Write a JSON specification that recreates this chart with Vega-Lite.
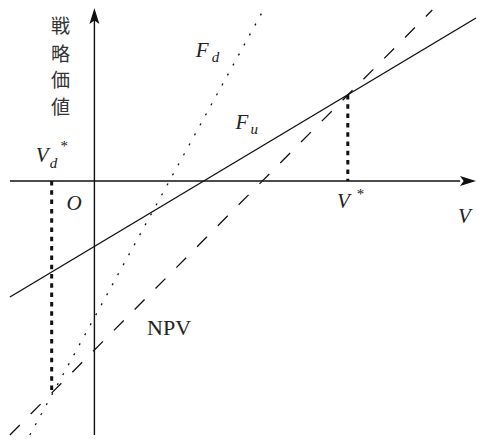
{
  "$schema": "https://vega.github.io/schema/vega-lite/v6.json",
  "width": 479,
  "height": 444,
  "padding": 0,
  "autosize": {"type": "fit", "contains": "padding"},
  "background": "white",
  "config": {"view": {"stroke": null}},
  "datasets": {
    "lines": [
      {"series": "Fu", "x": -85, "y": -116},
      {"series": "Fu", "x": 384, "y": 163},
      {"series": "Fd", "x": -65, "y": -254},
      {"series": "Fd", "x": 170, "y": 171},
      {"series": "NPV", "x": -85, "y": -254},
      {"series": "NPV", "x": 340, "y": 171}
    ],
    "drops": [
      {"name": "V*", "x": 255, "y": 86, "y2": 0},
      {"name": "Vd*", "x": -43, "y": 0, "y2": -213}
    ],
    "mathMain": [
      {"label": "F", "x": 102, "y": 124},
      {"label": "F", "x": 142, "y": 52},
      {"label": "V", "x": -59, "y": 19},
      {"label": "O", "x": -28, "y": -29},
      {"label": "V", "x": 244, "y": -27},
      {"label": "V", "x": 366, "y": -42}
    ],
    "mathSub": [
      {"label": "d", "x": 118, "y": 119},
      {"label": "u", "x": 157, "y": 47},
      {"label": "d", "x": -45, "y": 13}
    ],
    "mathSup": [
      {"label": "*", "x": -34, "y": 30},
      {"label": "*", "x": 264, "y": -18}
    ],
    "kanji": [
      {"label": "戦", "x": -34, "y": 154},
      {"label": "略", "x": -34, "y": 126},
      {"label": "価", "x": -34, "y": 100},
      {"label": "値", "x": -34, "y": 73}
    ]
  },
  "encoding": {
    "x": {"field": "x", "type": "quantitative", "scale": {"domain": [-95, 384], "nice": false, "zero": false}, "axis": null},
    "y": {"field": "y", "type": "quantitative", "scale": {"domain": [-263, 181], "nice": false, "zero": false}, "axis": null}
  },
  "layer": [
    {
      "data": {"values": [{"x": -85, "x2": 368, "y": 0}]},
      "mark": {"type": "rule", "stroke": "#111", "strokeWidth": 1.4},
      "encoding": {"x2": {"field": "x2"}}
    },
    {
      "data": {"values": [{"x": 0, "y": -254, "y2": 162}]},
      "mark": {"type": "rule", "stroke": "#111", "strokeWidth": 1.4},
      "encoding": {"y2": {"field": "y2"}}
    },
    {
      "data": {"values": [{"x": 376, "y": 0}]},
      "mark": {"type": "point", "shape": "M1,0 L-1,-0.62 L-0.55,0 L-1,0.62 Z", "size": 256, "filled": true, "color": "#111", "opacity": 1}
    },
    {
      "data": {"values": [{"x": 0, "y": 165}]},
      "mark": {"type": "point", "shape": "M0,-1 L-0.62,1 L0,0.55 L0.62,1 Z", "size": 256, "filled": true, "color": "#111", "opacity": 1}
    },
    {
      "data": {"name": "lines"},
      "transform": [{"filter": "datum.series === 'Fu'"}],
      "mark": {"type": "line", "stroke": "#111", "strokeWidth": 1.4}
    },
    {
      "data": {"name": "lines"},
      "transform": [{"filter": "datum.series === 'Fd'"}],
      "mark": {"type": "line", "stroke": "#111", "strokeWidth": 1.3, "strokeDash": [2, 9.4]}
    },
    {
      "data": {"name": "lines"},
      "transform": [{"filter": "datum.series === 'NPV'"}],
      "mark": {"type": "line", "stroke": "#111", "strokeWidth": 1.3, "strokeDash": [14, 15.5]}
    },
    {
      "data": {"name": "drops"},
      "mark": {"type": "rule", "stroke": "#111", "strokeWidth": 3, "strokeDash": [4.5, 4.8]},
      "encoding": {"y2": {"field": "y2"}}
    },
    {
      "data": {"name": "mathMain"},
      "mark": {"type": "text", "font": "Liberation Serif", "fontStyle": "italic", "fontSize": 21, "align": "left", "baseline": "alphabetic", "color": "#222"},
      "encoding": {"text": {"field": "label"}}
    },
    {
      "data": {"name": "mathSub"},
      "mark": {"type": "text", "font": "Liberation Serif", "fontStyle": "italic", "fontSize": 15, "align": "left", "baseline": "alphabetic", "color": "#222"},
      "encoding": {"text": {"field": "label"}}
    },
    {
      "data": {"name": "mathSup"},
      "mark": {"type": "text", "font": "Liberation Serif", "fontSize": 15, "align": "left", "baseline": "alphabetic", "color": "#222"},
      "encoding": {"text": {"field": "label"}}
    },
    {
      "data": {"values": [{"label": "NPV", "x": 53, "y": -154}]},
      "mark": {"type": "text", "font": "Liberation Serif", "fontSize": 22, "align": "left", "baseline": "alphabetic", "color": "#222"},
      "encoding": {"text": {"field": "label"}}
    },
    {
      "data": {"name": "kanji"},
      "mark": {"type": "text", "font": "Noto Sans CJK JP", "fontSize": 19, "align": "center", "baseline": "middle", "color": "#333"},
      "encoding": {"text": {"field": "label"}}
    }
  ]
}
